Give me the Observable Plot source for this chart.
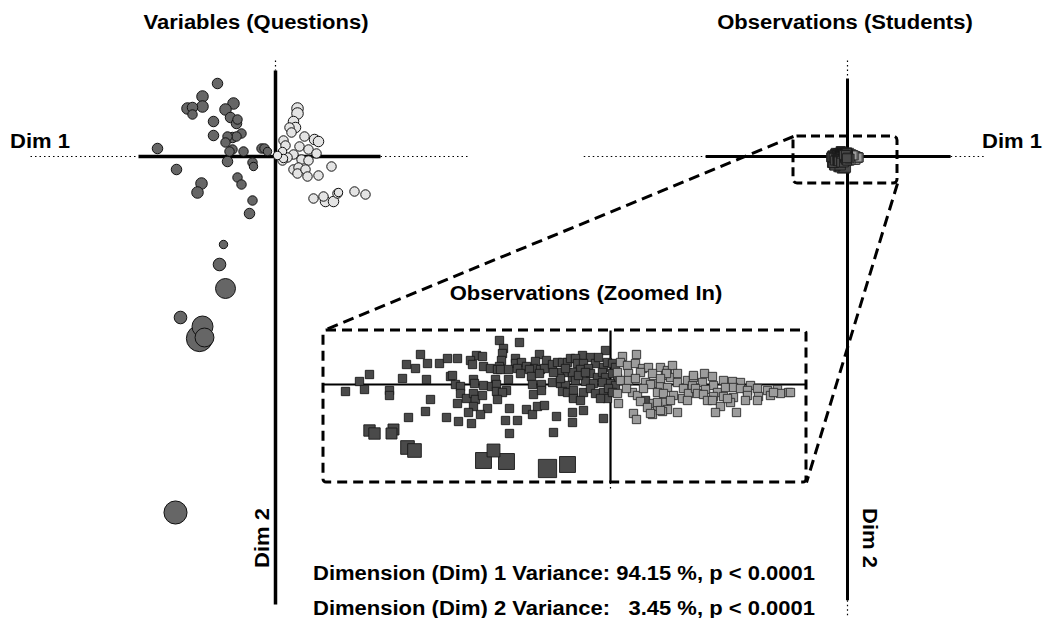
<!DOCTYPE html>
<html><head><meta charset="utf-8">
<script src="https://cdn.jsdelivr.net/npm/d3@7"></script>
<script src="https://cdn.jsdelivr.net/npm/@observablehq/plot@0.6"></script>
<style>
html,body{margin:0;padding:0;background:#fff;}
#chart{position:relative;width:1044px;height:618px;overflow:hidden;font-family:"Liberation Sans",Arial,sans-serif;font-weight:bold;}
#chart svg{position:absolute;left:0;top:0;}
.lbl{position:absolute;font-size:20px;font-weight:bold;white-space:pre;line-height:1;color:#000;}
</style></head><body><div id="chart"></div>
<script>
// ---------- DATA ----------
// Variables (questions): [Dim 1, Dim 2, quality/size]
const questionsGroupA = [
[-0.58,0.73,0.5],[-0.73,0.60,0.55],[-0.88,0.48,0.55],[-0.83,0.49,0.5],[-0.73,0.50,0.55],[-0.83,0.42,0.45],
[-0.42,0.53,0.55],[-0.50,0.47,0.55],[-0.45,0.39,0.5],[-0.38,0.37,0.45],[-0.39,0.33,0.5],[-0.62,0.35,0.5],
[-0.62,0.21,0.5],[-0.34,0.23,0.45],[-0.39,0.20,0.45],[-0.43,0.19,0.5],[-0.48,0.20,0.45],[-0.50,0.14,0.45],
[-1.18,0.08,0.5],[-0.43,0.07,0.45],[-0.46,0.05,0.45],[-0.32,0.05,0.45],[-0.14,0.08,0.45],[-0.11,0.08,0.45],
[-0.08,0.05,0.4],[-0.48,-0.05,0.5],[-0.23,-0.06,0.45],[-0.22,-0.10,0.4],[-0.99,-0.13,0.5],[-0.38,-0.21,0.45],
[-0.34,-0.28,0.45],[-0.74,-0.27,0.55],[-0.78,-0.36,0.55],[-0.23,-0.44,0.45],[-0.26,-0.57,0.5],[-0.52,-0.88,0.4],
[-0.56,-1.08,0.6],[-0.50,-1.32,0.95],[-0.95,-1.61,0.6],[-0.73,-1.70,1.0],[-0.76,-1.82,1.25],[-0.71,-1.81,0.9],
[-1.00,-3.56,1.1]
];
const questionsGroupB = [
[0.22,0.48,0.55],[0.22,0.43,0.55],[0.18,0.35,0.5],[0.20,0.29,0.5],[0.14,0.29,0.45],[0.16,0.24,0.45],
[0.29,0.20,0.45],[0.39,0.17,0.5],[0.43,0.15,0.5],[0.08,0.16,0.45],[0.10,0.11,0.45],[0.24,0.10,0.45],
[0.33,0.07,0.45],[0.41,0.03,0.45],[0.07,0.05,0.4],[0.18,0.02,0.45],[0.12,-0.01,0.45],[0.07,-0.04,0.45],
[0.08,-0.02,0.4],[0.02,0.01,0.4],[0.26,-0.03,0.45],[0.33,-0.04,0.45],[0.18,-0.13,0.45],[0.23,-0.11,0.45],
[0.22,-0.17,0.45],[0.30,-0.13,0.45],[0.32,-0.20,0.45],[0.43,-0.19,0.45],[0.56,-0.10,0.45],[0.38,-0.42,0.45],
[0.48,-0.40,0.45],[0.50,-0.45,0.5],[0.58,-0.45,0.5],[0.62,-0.37,0.45],[0.63,-0.36,0.4],[0.79,-0.35,0.45],
[0.90,-0.38,0.45]
];
// Observations (students): [Dim 1, Dim 2, weight]
const studentsGroupA = [
[-19.0,3.0,1],[-20.4,2.0,1],[-19.5,1.6,1],[-18.3,2.1,1],[-17.1,2.1,1],[-16.3,2.6,1],[-24.1,1.0,1],[-25.1,0.3,1],
[-20.8,0.6,1],[-18.4,0.5,1],[-16.0,0.8,1],[-26.5,-0.7,1],[-24.6,-0.5,1],[-22.1,-0.6,1],[-22.1,-1.1,1],[-18.0,-1.5,1],
[-18.5,-2.7,1],[-20.2,-3.3,1],[-16.4,-3.3,1],[-24.1,-4.6,1.8],[-23.6,-4.9,1.8],[-21.7,-4.5,1.7],[-21.9,-4.9,1.7],
[-20.3,-6.3,2.4],[-19.6,-6.6,2.4],
[-11.1,4.4,1],[-9.1,4.2,1],[-10.7,3.6,1],[-10.8,3.1,1],[-15.3,2.6,1],[-13.4,2.9,1],[-12.8,2.8,1],[-14.0,2.4,1],
[-13.8,2.0,1],[-12.7,1.8,1],[-10.9,2.4,1],[-11.1,1.8,1],[-9.5,2.6,1],[-9.5,2.1,1],[-8.9,2.2,1],[-7.1,3.0,1],
[-7.5,2.3,1],[-7.7,1.6,1],[-6.4,2.4,1],[-12.0,1.6,1],[-11.3,1.5,1],[-11.0,1.5,1],[-10.2,1.5,1],[-9.3,1.6,1],
[-8.4,1.8,1],[-8.1,1.5,1],[-7.0,1.5,1],[-6.6,1.6,1],[-5.8,2.0,1],[-5.3,2.2,1],[-4.8,2.2,1],[-4.3,2.2,1],
[-4.0,2.6,1],[-9.0,1.1,1],[-7.9,0.8,1],[-7.1,1.1,1],[-5.0,1.2,1],[-4.3,1.2,1],[-3.8,0.7,1],[-15.8,0.9,1],
[-13.7,0.5,1],[-13.6,0.1,1],[-11.5,0.5,1],[-10.2,0.5,1],[-15.5,0.0,1],[-15.0,-0.2,1],[-12.7,-0.1,1],[-11.9,-0.2,1],
[-11.4,0.0,1],[-7.8,0.0,1],[-6.9,0.0,1],[-5.8,0.2,1],[-5.0,0.1,1],[-4.5,-0.1,1],[-15.0,-0.9,1],[-14.4,-1.4,1],
[-13.7,-0.9,1],[-13.5,-1.5,1],[-12.8,-1.1,1],[-11.4,-0.7,1],[-10.4,-0.6,1],[-10.8,-0.8,1],[-11.3,-1.5,1],
[-7.7,-1.0,1],[-6.9,-0.6,1],[-4.8,-0.7,1],[-4.3,-0.8,1],[-3.7,-1.3,1],[-15.3,-1.9,1],[-13.7,-2.2,1],[-12.3,-2.4,1],
[-14.2,-2.8,1],[-13.0,-3.0,1],[-10.1,-2.4,1],[-8.4,-2.5,1],[-7.8,-3.0,1],[-7.3,-2.2,1],[-6.6,-2.1,1],[-5.4,-3.2,1],
[-3.8,-2.8,1],[-3.8,-3.8,1],[-15.2,-3.7,1],[-13.9,-3.9,1],[-10.5,-3.6,1],[-9.3,-3.6,1],[-10.1,-4.9,1],[-5.7,-4.8,1],
[-12.7,-7.6,3],[-10.4,-7.7,3],[-11.7,-6.6,2.2],[-6.3,-8.4,3.6],[-4.3,-8.0,3],
[-0.5,3.4,1],[-2.8,2.9,1],[-3.5,2.6,1],[-2.0,2.7,1],[-1.5,2.1,1],[-3.3,2.1,1],[-2.7,2.1,1],[-3.0,1.5,1],
[-3.8,1.2,1],[-2.2,1.6,1],[-0.7,1.7,1],[-0.3,2.2,1],[0.2,2.1,1],[0.5,1.7,1],[-2.0,1.1,1],[-1.3,0.7,1],
[-0.8,1.2,1],[-0.5,0.7,1],[0.2,1.1,1],[0.7,0.6,1],[-3.5,0.4,1],[-2.5,0.3,1],[-1.7,0.1,1],[-0.8,0.2,1],
[0.0,0.1,1],[0.5,-0.1,1],[-3.7,-0.6,1],[-2.7,-0.8,1],[-2.0,-0.4,1],[-1.5,-0.9,1],[-0.7,-0.8,1],[-0.2,-0.4,1],
[-3.7,-1.4,1],[-3.0,-1.6,1],[-0.3,-1.4,1],[-2.7,-2.6,1],[-0.7,-3.4,1],[3.5,-1.6,1],
[-3.2,0.9,1],[-1.2,2.7,1],[-4.5,1.6,1],[-5.0,0.6,1],[-5.7,1.2,1],[-2.5,1.2,1],[0.2,-0.8,1],[-1.0,-1.4,1]
];
const studentsGroupB = [
[1.2,2.8,1],[2.6,3.0,1],[1.0,2.2,1],[1.7,1.9,1],[2.5,2.1,1],[3.2,1.6,1],[3.8,1.7,1],[5.0,1.7,1],[5.7,1.4,1],
[6.2,1.9,1],[0.7,1.2,1],[1.8,1.1,1],[3.0,1.2,1],[4.2,1.1,1],[5.5,0.9,1],[6.0,0.7,1],[6.7,1.1,1],[7.7,0.4,1],
[1.0,0.4,1],[1.8,0.4,1],[2.5,0.6,1],[3.5,0.2,1],[4.3,0.1,1],[5.0,-0.1,1],[5.7,-0.3,1],[6.7,0.2,1],[7.3,-0.4,1],
[8.2,-0.1,1],[0.7,-0.9,1],[2.2,-0.8,1],[2.7,-1.1,1],[4.0,0.0,1],[4.7,-0.8,1],[5.3,-0.9,1],[6.3,-1.1,1],[7.2,-1.4,1],
[7.8,-0.9,1],[0.8,-1.9,1],[3.0,-1.7,1],[4.3,-1.9,1],[5.3,-1.8,1],[6.0,-1.6,1],[7.7,-1.6,1],[3.7,-2.3,1],[4.7,-2.2,1],
[5.7,-2.5,1],[6.7,-2.8,1],[4.2,-3.0,1],[5.2,-2.7,1],[2.3,-2.9,1],[2.6,-3.5,1],
[9.4,1.1,1],[8.3,0.7,1],[9.2,0.2,1],[8.5,-0.4,1],[10.3,-0.1,1],[11.3,0.4,1],[12.2,0.3,1],[13.0,0.2,1],[14.0,-0.1,1],
[9.5,-0.5,1],[10.7,-0.8,1],[11.5,-0.3,1],[12.3,-0.3,1],[13.0,-0.4,1],[13.7,-0.6,1],[14.7,-0.4,1],[15.7,-0.6,1],
[16.7,-0.5,1],[17.8,-0.8,1],[8.7,-0.9,1],[9.3,-1.0,1],[10.3,-1.2,1],[11.3,-1.2,1],[12.3,-1.3,1],[13.7,-1.1,1],
[14.8,-1.2,1],[16.0,-1.1,1],[17.0,-0.9,1],[9.7,-1.6,1],[10.2,-1.6,1],[12.0,-1.8,1],[13.5,-1.6,1],[14.7,-1.6,1],
[11.0,-2.2,1],[10.5,-2.8,1],[12.6,-2.8,1],
[18.0,-0.8,1],[11.7,-1.4,1],[16.3,-0.8,1],[5.6,1.1,1],[4.7,-1.8,1],[4.0,-2.9,1],[5.0,-2.6,1],[1.6,-0.4,1],
[3.3,-0.4,1],[5.0,0.6,1],[10.2,0.8,1],[8.3,0.9,1]
];
const panelTitles = ["Variables (Questions)", "Observations (Students)", "Observations (Zoomed In)"];
const axisNames = ["Dim 1", "Dim 2"];
const dimVariance = [94.15, 3.45];
const pValueText = "p < 0.0001";

// ---------- LAYOUT ----------
const W = 1044, H = 618;
const chart = document.getElementById("chart");
function frame(ox, oy, kx, ky) {
  return {
    x: {type: "linear", domain: [-ox / kx, (W - ox) / kx], range: [0, W], axis: null},
    y: {type: "linear", domain: [oy / ky, (oy - H) / ky], range: [0, H], axis: null}
  };
}
const base = {width: W, height: H, margin: 0, style: {background: "transparent", overflow: "visible"}};
const seg = (x1, y1, x2, y2) => ({x1, y1, x2, y2});
const lines = (arr, o) => Plot.link(arr, {x1: "x1", y1: "y1", x2: "x2", y2: "y2", stroke: "#000", ...o});
const X = d => d[0], Y = d => d[1], S = d => d[2];
const dotted = {strokeWidth: 1.2, strokeDasharray: "1.5,3"};

// Left panel: variables
const leftPlot = Plot.plot({
  ...base, ...frame(275, 156, 100, 100),
  r: {type: "linear", domain: [0, 1], range: [0, 10.5]},
  marks: [
    lines([seg(-2.45, 0, -1.37, 0), seg(1.05, 0, 1.95, 0), seg(0, 0.96, 0, 0.86)], dotted),
    lines([seg(-1.37, 0, 1.05, 0), seg(0, 0.86, 0, -4.48)], {strokeWidth: 3.5}),
    Plot.dot(questionsGroupA, {x: X, y: Y, r: S, fill: "#666666", stroke: "#111", strokeWidth: 1}),
    Plot.dot(questionsGroupB, {x: X, y: Y, r: S, fill: "#e4e4e4", stroke: "#111", strokeWidth: 1})
  ]
});
chart.append(leftPlot);

// Right panel: observations, full view
const zoomBox = {x1: -86.4, x2: 80, y1: 16, y2: -21.6};
const rightPlot = Plot.plot({
  ...base, ...frame(847, 156, 0.625, 1.25),
  r: {type: "linear", domain: [1, 3], range: [5, 6.5]},
  marks: [
    lines([seg(-422, 0, -227, 0), seg(165, 0, 221, 0), seg(0, 76.8, 0, 62.4), seg(0, -355, 0, -370)], dotted),
    lines([seg(-227, 0, 165, 0), seg(0, 62.4, 0, -355)], {strokeWidth: 3}),
    Plot.dot(studentsGroupB, {x: X, y: Y, r: S, symbol: "square", fill: "#9c9c9c", stroke: "#2a2a2a", strokeWidth: 0.8}),
    Plot.dot(studentsGroupA, {x: X, y: Y, r: S, symbol: "square", fill: "#4a4a4a", stroke: "#1a1a1a", strokeWidth: 0.8}),
    Plot.rect([zoomBox], {x1: "x1", x2: "x2", y1: "y1", y2: "y2", fill: "none", stroke: "#000", strokeWidth: 3, strokeDasharray: "9,5", rx: 4})
  ]
});
chart.append(rightPlot);

// Inset: zoomed observations
const insetBox = {x1: -28.7, x2: 19.6, y1: 5.4, y2: -9.8};
const insetPlot = Plot.plot({
  ...base, ...frame(610, 384, 10, 10),
  r: {type: "linear", domain: [1, 3], range: [4.7, 9]},
  marks: [
    lines([seg(insetBox.x1, 0, insetBox.x2, 0), seg(0, insetBox.y1, 0, insetBox.y2)], {strokeWidth: 2.2}),
    lines([seg(0, insetBox.y2, 0, -10.5)], dotted),
    Plot.dot(studentsGroupA, {x: X, y: Y, r: S, symbol: "square", fill: "#4a4a4a", stroke: "#1a1a1a", strokeWidth: 0.9}),
    Plot.dot(studentsGroupB, {x: X, y: Y, r: S, symbol: "square", fill: "#9c9c9c", stroke: "#2a2a2a", strokeWidth: 0.9}),
    Plot.rect([insetBox], {x1: "x1", x2: "x2", y1: "y1", y2: "y2", fill: "none", stroke: "#000", strokeWidth: 3, strokeDasharray: "10,6", rx: 3})
  ]
});
chart.append(insetPlot);

// Connector lines between the zoom box and the inset (positions derived from both plots' scales)
const rx = rightPlot.scale("x"), ry = rightPlot.scale("y");
const ix = insetPlot.scale("x"), iy = insetPlot.scale("y");
const connectors = [
  seg(rx.apply(zoomBox.x1), ry.apply(zoomBox.y1), ix.apply(insetBox.x1), iy.apply(insetBox.y1)),
  seg(rx.apply(zoomBox.x2), ry.apply(zoomBox.y2), ix.apply(insetBox.x2), iy.apply(insetBox.y2))
];
const linkPlot = Plot.plot({
  ...base,
  x: {type: "identity", axis: null}, y: {type: "identity", axis: null},
  marks: [lines(connectors, {strokeWidth: 3, strokeDasharray: "11,6"})]
});
chart.append(linkPlot);

// ---------- TEXT ----------
function label(text, x, y, align, rotate) {
  const d = document.createElement("div");
  d.className = "lbl";
  d.textContent = text;
  d.style.left = x + "px";
  d.style.top = y + "px";
  if (align === "left") {
    d.style.transformOrigin = "left center";
    d.style.transform = "translate(0,-50%) scaleX(1.1)";
  } else {
    d.style.transform = `translate(-50%,-50%) rotate(${rotate || 0}deg) scaleX(1.1)`;
  }
  chart.append(d);
}
label(panelTitles[0], 256, 22);
label(panelTitles[1], 845, 22);
label(panelTitles[2], 586, 293);
label(axisNames[0], 10, 141, "left");
label(axisNames[0], 982, 141, "left");
label(axisNames[1], 262, 538, "middle", -90);
label(axisNames[1], 870, 538, "middle", 90);
const fmt = v => d3.format("5.2f")(v).replace(/ /g, "  ");
label(`Dimension (Dim) 1 Variance: ${fmt(dimVariance[0])} %, ${pValueText}`, 313, 573, "left");
label(`Dimension (Dim) 2 Variance: ${fmt(dimVariance[1])} %, ${pValueText}`, 313, 608, "left");
</script>
</body></html>
